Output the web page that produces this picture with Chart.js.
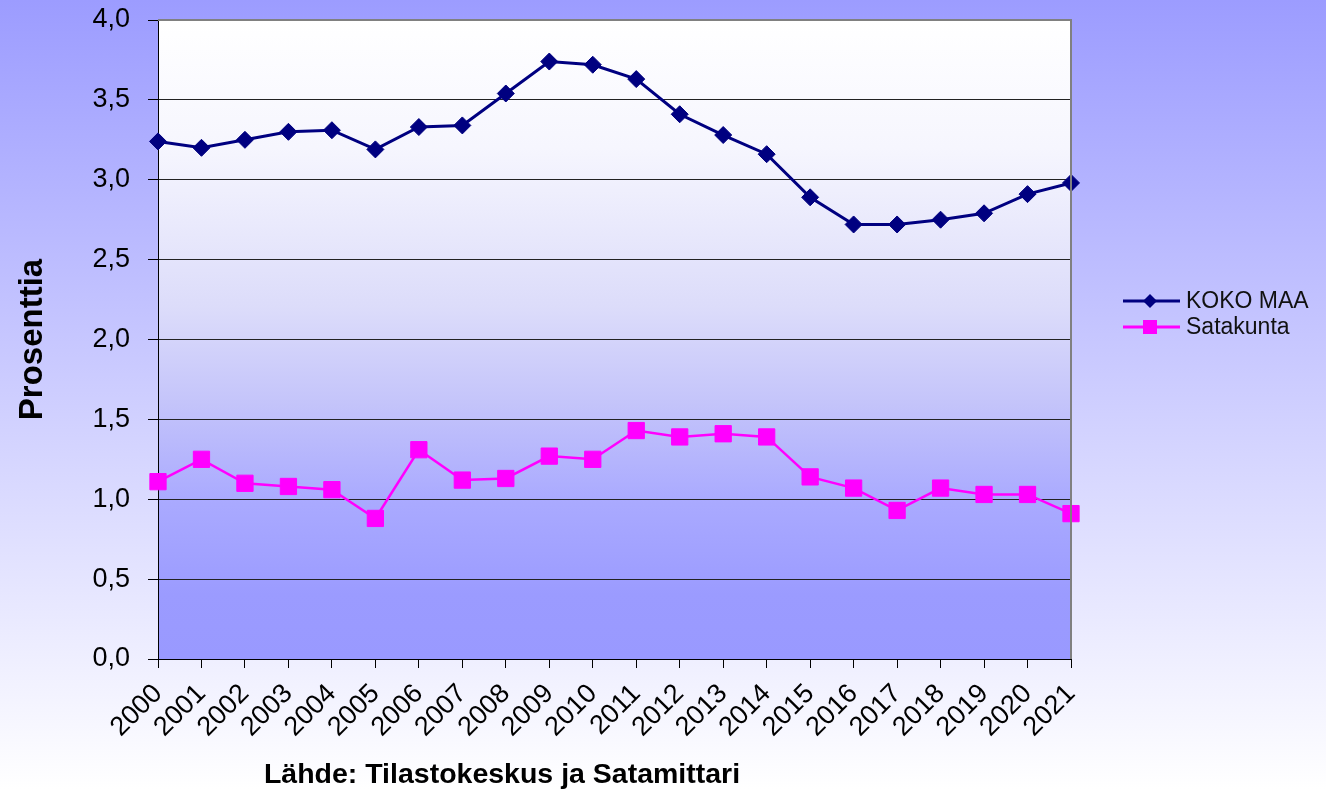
<!DOCTYPE html>
<html>
<head>
<meta charset="utf-8">
<script src="https://cdn.jsdelivr.net/npm/chart.js@4.4.0/dist/chart.umd.min.js"></script>
<style>
  html, body { margin: 0; padding: 0; background: #fff; }
  #wrap { width: 1326px; height: 789px; position: relative; }
</style>
</head>
<body>
<div id="wrap"><canvas id="myChart"></canvas></div>
<script>
// data
const years = ['2000','2001','2002','2003','2004','2005','2006','2007','2008','2009','2010',
               '2011','2012','2013','2014','2015','2016','2017','2018','2019','2020','2021'];
const kokoMaa = [3.24, 3.20, 3.25, 3.30, 3.31, 3.19, 3.33, 3.34, 3.54, 3.74, 3.72,
                 3.63, 3.41, 3.28, 3.16, 2.89, 2.72, 2.72, 2.75, 2.79, 2.91, 2.98];
const satakunta = [1.11, 1.25, 1.10, 1.08, 1.06, 0.88, 1.31, 1.12, 1.13, 1.27, 1.25,
                   1.43, 1.39, 1.41, 1.39, 1.14, 1.07, 0.93, 1.07, 1.03, 1.03, 0.91];
const seriesNames = ['KOKO MAA', 'Satakunta'];
const yTitle = 'Prosenttia';
const sourceText = 'Lähde: Tilastokeskus ja Satamittari';

const FONT = "'Liberation Sans', Arial, sans-serif";

// backgrounds, plot frame, legend and source line
const decorPlugin = {
    id: 'decor',
    beforeDraw(chart) {
        const ctx = chart.ctx;
        const a = chart.chartArea;
        ctx.save();
        let g = ctx.createLinearGradient(0, 0, 0, chart.height);
        g.addColorStop(0, '#9c9cff');
        g.addColorStop(1, '#ffffff');
        ctx.fillStyle = g;
        ctx.fillRect(0, 0, chart.width, chart.height);

        // plot area: white on top, blue at the bottom
        g = ctx.createLinearGradient(0, a.top, 0, a.bottom);
        g.addColorStop(0, '#ffffff');
        g.addColorStop(0.2, '#f6f6fe');
        g.addColorStop(0.45, '#dcdcfa');
        g.addColorStop(0.6, '#c4c4fa');
        g.addColorStop(0.75, '#aaaaff');
        g.addColorStop(0.9, '#9b9bff');
        g.addColorStop(1, '#9999ff');
        ctx.fillStyle = g;
        ctx.fillRect(a.left, a.top, a.right - a.left, a.bottom - a.top);
        ctx.restore();
    },
    afterDraw(chart) {
        const ctx = chart.ctx;
        const a = chart.chartArea;
        ctx.save();
        // grey frame top / right
        ctx.strokeStyle = '#808080';
        ctx.lineWidth = 2;
        ctx.beginPath();
        ctx.moveTo(a.left, a.top);
        ctx.lineTo(a.right, a.top);
        ctx.lineTo(a.right, a.bottom);
        ctx.stroke();

        // legend
        const lx0 = a.right + 52, lx1 = a.right + 109, mx = a.right + 79;
        const rows = [301, 327];
        chart.data.datasets.forEach((ds, i) => {
            const y = rows[i];
            ctx.strokeStyle = ds.borderColor;
            ctx.lineWidth = 3;
            ctx.beginPath();
            ctx.moveTo(lx0, y);
            ctx.lineTo(lx1, y);
            ctx.stroke();
            ctx.fillStyle = ds.pointBackgroundColor;
            ctx.beginPath();
            if (ds.pointStyle === 'rectRot') {
                const r = 7;
                ctx.moveTo(mx, y - r); ctx.lineTo(mx + r, y);
                ctx.lineTo(mx, y + r); ctx.lineTo(mx - r, y);
                ctx.closePath();
            } else {
                ctx.rect(mx - 7, y - 7, 14, 14);
            }
            ctx.fill();
            ctx.fillStyle = '#111';
            ctx.font = '23px ' + FONT;
            ctx.textBaseline = 'middle';
            ctx.textAlign = 'left';
            ctx.fillText(ds.label, a.right + 115, y + 1);
        });

        // source line under the axis
        ctx.fillStyle = '#000';
        ctx.font = 'bold 28.5px ' + FONT;
        ctx.textAlign = 'center';
        ctx.textBaseline = 'middle';
        ctx.fillText(sourceText, 502, 775);
        ctx.restore();
    }
};

const ctx = document.getElementById('myChart').getContext('2d');
const chart = new Chart(ctx, {
    type: 'line',
    data: {
        labels: years,
        datasets: [
            {
                label: seriesNames[0],
                data: kokoMaa,
                borderColor: '#000080',
                backgroundColor: '#000080',
                pointBackgroundColor: '#000080',
                pointBorderColor: '#000080',
                pointStyle: 'rectRot',
                pointRadius: 8.5,
                pointBorderWidth: 1,
                borderWidth: 3,
                tension: 0,
                fill: false
            },
            {
                label: seriesNames[1],
                data: satakunta,
                borderColor: '#ff00ff',
                backgroundColor: '#ff00ff',
                pointBackgroundColor: '#ff00ff',
                pointBorderColor: '#ff00ff',
                pointStyle: 'rect',
                pointRadius: 11.5,
                pointBorderWidth: 1,
                borderWidth: 2.5,
                tension: 0,
                fill: false
            }
        ]
    },
    options: {
        responsive: true,
        maintainAspectRatio: false,
        animation: false,
        devicePixelRatio: 1,
        layout: {
            padding: { top: 20, right: 255, left: 0, bottom: 0 }
        },
        plugins: {
            legend: { display: false },
            tooltip: { enabled: false }
        },
        scales: {
            x: {
                offset: false,
                grid: {
                    drawOnChartArea: false,
                    drawTicks: true,
                    tickLength: 9,
                    tickColor: '#000',
                    tickWidth: 1
                },
                border: { color: '#000', width: 1 },
                ticks: {
                    autoSkip: false,
                    minRotation: 45,
                    maxRotation: 45,
                    padding: 10,
                    color: '#000',
                    font: { family: FONT, size: 27 }
                },
                afterFit(scale) {
                    scale.height = 130;
                    scale.paddingTop = 0;
                }
            },
            y: {
                min: 0,
                max: 4,
                grid: {
                    color: '#222',
                    lineWidth: 1,
                    drawTicks: true,
                    tickLength: 10,
                    tickColor: '#000'
                },
                border: { color: '#000', width: 1 },
                ticks: {
                    stepSize: 0.5,
                    padding: 18,
                    color: '#000',
                    font: { family: FONT, size: 27 },
                    callback: v => v.toFixed(1).replace('.', ',')
                },
                title: {
                    display: true,
                    text: yTitle,
                    color: '#000',
                    font: { family: FONT, size: 33, weight: 'bold' },
                    padding: { top: 13, bottom: 0 }
                },
                afterFit(scale) {
                    scale.width = 158;
                    scale.paddingTop = 0;
                }
            }
        }
    },
    plugins: [decorPlugin]
});
</script>
</body>
</html>
